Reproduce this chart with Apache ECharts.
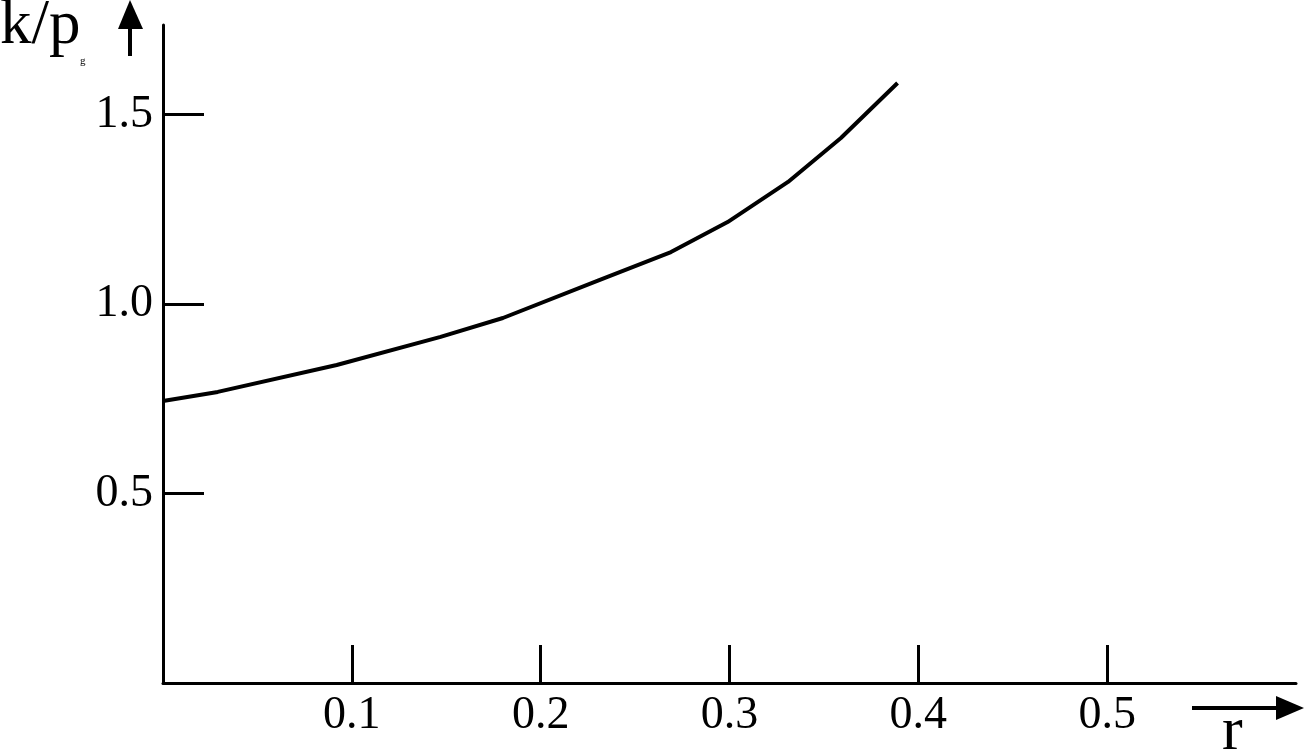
<!DOCTYPE html>
<html>
<head>
<meta charset="utf-8">
<script src="https://cdn.jsdelivr.net/npm/echarts@6/dist/echarts.min.js"></script>
<style>
  html, body { margin: 0; padding: 0; background: #fff; }
  #chart { width: 1305px; height: 753px; }
</style>
</head>
<body>
<div id="chart"></div>
<script>
// curve
const rValues = [0, 0.029, 0.092, 0.147, 0.180, 0.231, 0.269, 0.299, 0.331, 0.359, 0.389];
const kValues = [0.744, 0.768, 0.839, 0.913, 0.963, 1.063, 1.137, 1.216, 1.322, 1.438, 1.583];
const xTicks = [0.1, 0.2, 0.3, 0.4, 0.5];
const yTicks = [0.5, 1.0, 1.5];

window.addEventListener('load', function () {
    let chart = echarts.init(document.getElementById('chart'));
    let points = rValues.map((r, i) => [r, kValues[i]]);
    let serif = 'Liberation Serif';

    let option = {
        backgroundColor: '#fff',
        animation: false,
        grid: { left: 163, right: 9, top: 25, bottom: 70 },
        xAxis: {
            type: 'value',
            min: 0,
            max: 0.6,
            interval: 0.1,
            axisLine: { show: true, lineStyle: { color: '#000', width: 3 } },
            axisTick: { show: true, inside: true, length: 38, customValues: xTicks, lineStyle: { color: '#000', width: 3 } },
            axisLabel: {
                margin: 10,
                color: '#000',
                fontFamily: serif,
                fontSize: 46,
                customValues: xTicks,
                formatter: v => v.toFixed(1)
            },
            splitLine: { show: false }
        },
        yAxis: {
            type: 'value',
            min: 0,
            max: 1.736,
            interval: 0.5,
            axisLine: { show: true, lineStyle: { color: '#000', width: 3 } },
            axisTick: { show: true, inside: true, length: 41, customValues: yTicks, lineStyle: { color: '#000', width: 3 } },
            axisLabel: {
                margin: 10,
                color: '#000',
                fontFamily: serif,
                fontSize: 46,
                customValues: yTicks,
                formatter: v => v.toFixed(1)
            },
            splitLine: { show: false }
        },
        series: [{
            type: 'line',
            data: points,
            symbol: 'none',
            smooth: false,
            lineStyle: { color: '#000', width: 4 }
        }],
        graphic: [
            // y arrow
            { type: 'line', shape: { x1: 130, y1: 56, x2: 130, y2: 24 }, style: { stroke: '#000', lineWidth: 4 } },
            { type: 'polygon', shape: { points: [[130, 0], [118, 29], [143, 29]] }, style: { fill: '#000' } },
            { type: 'text', left: 0, top: -5, style: { text: 'k/p', font: '63px "Liberation Serif"', fill: '#000' } },
            { type: 'text', left: 80, top: 56, style: { text: 'g', font: '11px "Liberation Serif"', fill: '#000' } },
            // x arrow
            { type: 'line', shape: { x1: 1192, y1: 708, x2: 1282, y2: 708 }, style: { stroke: '#000', lineWidth: 4 } },
            { type: 'polygon', shape: { points: [[1304, 708], [1276, 696], [1276, 720]] }, style: { fill: '#000' } },
            { type: 'text', left: 1222, top: 702, style: { text: 'r', font: '62px "Liberation Serif"', fill: '#000' } }
        ]
    };

    chart.setOption(option);
});
</script>
</body>
</html>
